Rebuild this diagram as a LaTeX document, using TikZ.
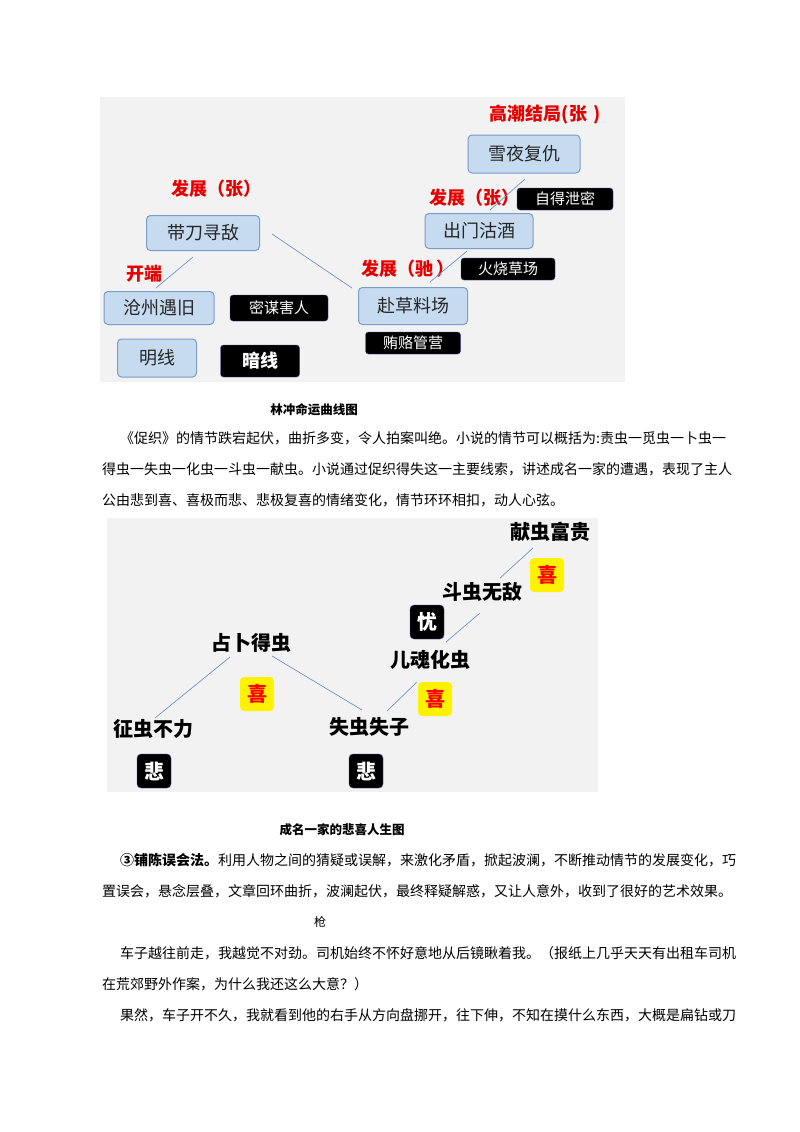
\documentclass[tikz,border=0pt]{standalone}
\usepackage{fontspec}
\setmainfont{Noto Sans CJK SC}
\definecolor{boxfill}{HTML}{C6DBF0}
\definecolor{boxedge}{HTML}{7A9CC6}
\definecolor{lnkc}{HTML}{6F96C8}
\begin{document}
\begin{tikzpicture}[x=1pt,y=-1pt,
 bluebox/.style={draw=boxedge,fill=boxfill,rounded corners=4pt,line width=1pt,font=\fontsize{18}{18}\selectfont,text=black!85,inner sep=0pt},
 blackbox/.style={fill=black,draw=gray!60!blue,rounded corners=3pt,text=white,font=\fontsize{15}{15}\selectfont,inner sep=0pt},
 redlab/.style={text=red!90!black,font=\bfseries\fontsize{18}{18}\selectfont},
 lnk/.style={draw=lnkc,line width=0.7pt},
 word/.style={font=\bfseries\fontsize{20}{20}\selectfont},
 badge/.style={rounded corners=4pt,minimum width=34pt,minimum height=34pt,inner sep=0pt,font=\bfseries\fontsize{20}{20}\selectfont},
 xi/.style={badge,fill=yellow,text=red},
 bei/.style={badge,fill=black,text=white,draw=gray!60!blue},
 body/.style={anchor=west,font=\fontsize{14}{14}\selectfont,inner sep=0pt},
 captext/.style={font=\bfseries\fontsize{12.5}{12.5}\selectfont,inner sep=0pt}]
\useasboundingbox (0,0) rectangle (800,1132);
\fill[white] (0,0) rectangle (800,1132);
% top figure
\fill[black!5] (100,97) rectangle (625,382);
\node[bluebox,minimum width=112pt,minimum height=38pt] (a) at (524,154) {雪夜复仇};
\node[bluebox,minimum width=108pt,minimum height=35pt] (b) at (479,231) {出门沽酒};
\node[bluebox,minimum width=113pt,minimum height=35pt] (c) at (203,233) {带刀寻敌};
\node[bluebox,minimum width=110pt,minimum height=33pt] (d) at (159,308) {沧州遇旧};
\node[bluebox,minimum width=109pt,minimum height=37pt] (e) at (413,306) {赴草料场};
\node[bluebox,minimum width=79pt,minimum height=38pt] (f) at (157,358) {明线};
\node[blackbox,minimum width=96pt,minimum height=22pt] (g) at (565,199) {自得泄密};
\node[blackbox,minimum width=94pt,minimum height=22pt] (h) at (508,269) {火烧草场};
\node[blackbox,minimum width=98pt,minimum height=26pt] (i) at (279,308) {密谋害人};
\node[blackbox,minimum width=95pt,minimum height=22pt] (j) at (413,343) {贿赂管营};
\node[blackbox,minimum width=79pt,minimum height=32pt,font=\bfseries\fontsize{18}{18}\selectfont] (k) at (260,361) {暗线};
\node[redlab] (l1) at (545,115) {高潮结局(张\,\,)};
\node[redlab] (l2) at (216,189) {发展（张）};
\node[redlab] (l3) at (474,198) {发展（张）};
\node[redlab] (l4) at (408,269) {发展（驰\,）};
\node[redlab] (l5) at (144,274) {开端};
\coordinate (p1) at (193,257); \coordinate (p2) at (156,288);
\coordinate (p3) at (272,234); \coordinate (p4) at (352,288);
\coordinate (p5) at (467,251); \coordinate (p6) at (430,282);
\coordinate (p7) at (525,179); \coordinate (p8) at (490,210);
\draw[lnk] (p1) -- (p2); \draw[lnk] (p3) -- (p4);
\draw[lnk] (p5) -- (p6); \draw[lnk] (p7) -- (p8);
\node[captext] (c1) at (314,410) {林冲命运曲线图};
\node[body] (t1) at (120,438) {《促织》的情节跌宕起伏，曲折多变，令人拍案叫绝。小说的情节可以概括为:责虫一觅虫一卜虫一};
\node[body] (t2) at (102,469) {得虫一失虫一化虫一斗虫一献虫。小说通过促织得失这一主要线索，讲述成名一家的遭遇，表现了主人};
\node[body] (t3) at (102,500) {公由悲到喜、喜极而悲、悲极复喜的情绪变化，情节环环相扣，动人心弦。};
% bottom figure
\fill[black!5] (107,518) rectangle (598,792);
\node[word] (w1) at (550,532) {献虫富贵};
\node[word] (w2) at (482,592) {斗虫无敌};
\node[word] (w3) at (430,660) {儿魂化虫};
\node[word] (w4) at (251,643) {占卜得虫};
\node[word] (w5) at (153,729) {征虫不力};
\node[word] (w6) at (369,727) {失虫失子};
\node[xi] (x1) at (547,575) {喜};
\node[bei] (x2) at (427,622) {忧};
\node[xi] (x3) at (257,694) {喜};
\node[xi] (x4) at (435,699) {喜};
\node[bei] (x5) at (154,771) {悲};
\node[bei] (x6) at (366,771) {悲};
\coordinate (q1) at (533,548); \coordinate (q2) at (500,578);
\coordinate (q3) at (480,613); \coordinate (q4) at (446,642);
\coordinate (q5) at (230,657); \coordinate (q6) at (155,718);
\coordinate (q7) at (272,656); \coordinate (q8) at (362,710);
\coordinate (q9) at (417,682); \coordinate (q10) at (387,711);
\draw[lnk] (q1) -- (q2); \draw[lnk] (q3) -- (q4); \draw[lnk] (q5) -- (q6);
\draw[lnk] (q7) -- (q8); \draw[lnk] (q9) -- (q10);
\node[captext] (c2) at (342,830) {成名一家的悲喜人生图};
\node[body] (t4) at (120,860) {\textbf{③铺陈误会法。}利用人物之间的猜疑或误解，来激化矛盾，掀起波澜，不断推动情节的发展变化，巧};
\node[body] (t5) at (102,891) {置误会，悬念层叠，文章回环曲折，波澜起伏，最终释疑解惑，又让人意外，收到了很好的艺术效果。};
\node[body,font=\fontsize{12}{12}\selectfont] (t6) at (314,922) {枪};
\node[body] (t7) at (120,953) {车子越往前走，我越觉不对劲。司机始终不怀好意地从后镜瞅着我。（报纸上几乎天天有出租车司机};
\node[body] (t8) at (102,984) {在荒郊野外作案，为什么我还这么大意？）};
\node[body] (t9) at (120,1015) {果然，车子开不久，我就看到他的右手从方向盘挪开，往下伸，不知在摸什么东西，大概是扁钻或刀};
\end{tikzpicture}
\end{document}
